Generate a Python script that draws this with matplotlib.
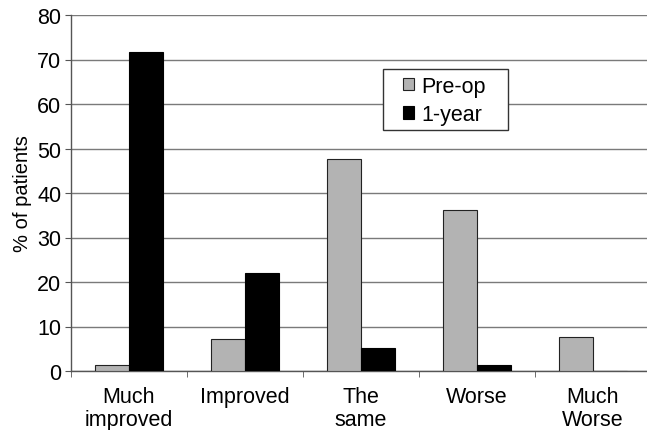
import numpy as np
import matplotlib.pyplot as plt
from matplotlib.patches import Rectangle

plt.rcParams['font.family'] = ['Liberation Sans', 'DejaVu Sans']

categories = ['Much\nimproved', 'Improved', 'The\nsame', 'Worse', 'Much\nWorse']
pre_op = [1.3, 7.2, 47.6, 36.2, 7.7]
one_year = [71.6, 22.0, 5.1, 1.3, 0.0]

fig = plt.figure(figsize=(6.47, 4.31), dpi=100)
ax = fig.add_axes([71 / 647, 59 / 431, 580 / 647, 356 / 431])

x = np.arange(len(categories))
w = 0.29
ax.bar(x - w / 2, pre_op, w, color='#b3b3b3', edgecolor='#222222', linewidth=0.8, label='Pre-op', zorder=3)
ax.bar(x + w / 2, one_year, w, color='#000000', edgecolor='#000000', linewidth=0.8, label='1-year', zorder=3)

ax.set_ylim(0, 80)
ax.set_xlim(-0.5, len(categories) - 0.5)
ax.set_yticks(range(0, 81, 10))
ax.yaxis.grid(True, color='#7a7a7a', linewidth=1.0, zorder=0)

ax.set_xticks(x)
ax.set_xticklabels(categories, fontsize=15.5, linespacing=1.1)
ax.set_xticks(np.arange(-0.5, len(categories)), minor=True)
ax.tick_params(axis='x', which='major', length=0, pad=11)
ax.tick_params(axis='x', which='minor', length=4, color='#555555', direction='out')
ax.tick_params(axis='y', labelsize=15.5, length=4, color='#555555', pad=3)

for s in ['top', 'right']:
    ax.spines[s].set_visible(False)
for s in ['left', 'bottom']:
    ax.spines[s].set_color('#555555')
    ax.spines[s].set_linewidth(1.0)

ax.set_ylabel('% of patients', fontsize=14.5, labelpad=4)

# legend box (wider than the entries, as in the original)
ax.add_patch(Rectangle((0.538, 0.677), 0.215, 0.171, transform=ax.transAxes,
                       facecolor='white', edgecolor='#333333', linewidth=1.0, zorder=4))
leg = ax.legend(loc='upper left', bbox_to_anchor=(0.572, 0.830), fontsize=15.5,
                frameon=False, handlelength=0.5, handleheight=0.5, handletextpad=0.35,
                borderpad=0, labelspacing=0.35, borderaxespad=0)
leg.set_zorder(5)

fig.savefig('out.png', dpi=100)
